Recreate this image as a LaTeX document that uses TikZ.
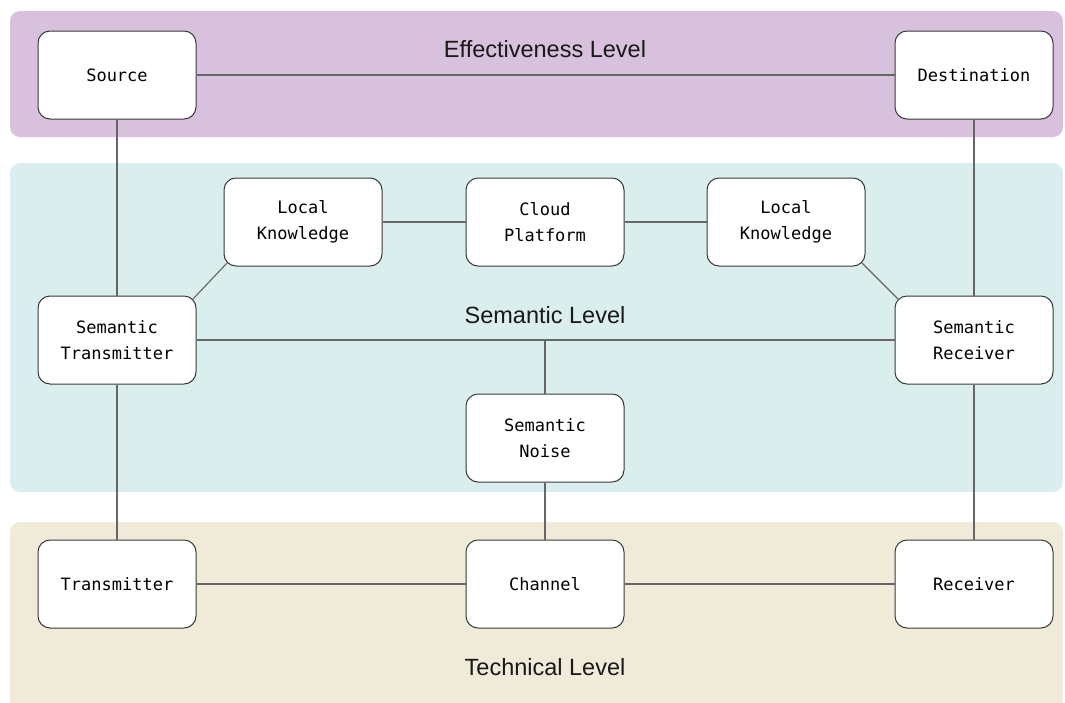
\documentclass[tikz,border=0pt]{standalone}
\usepackage{fontspec}
\setmainfont{Liberation Sans}
\newfontfamily\boxfont{DejaVu Sans Mono}
\begin{document}
\begin{tikzpicture}[x=1pt,y=-1pt,
  band/.style={rounded corners=10pt, draw=none},
  unit/.style={draw=black!78, fill=white, rounded corners=12pt, line width=1pt,
    minimum width=158pt, minimum height=88pt, align=center,
    font=\boxfont\fontsize{17}{26}\selectfont, inner sep=0pt},
  levellabel/.style={font=\fontsize{23.5}{28}\selectfont, anchor=base, text=black!90},
  link/.style={draw=black!60, line width=1.1pt}]
\definecolor{effband}{RGB}{216,193,220}
\definecolor{semband}{RGB}{218,238,237}
\definecolor{techband}{RGB}{240,234,216}
\useasboundingbox (0,0) rectangle (1065,702);

% level bands
\fill[band, effband] (10,11) rectangle (1063,137);
\fill[band, semband] (10,163) rectangle (1063,492);
\fill[band, techband] (10,522) rectangle (1063,716);

% level titles
\node[levellabel] (efftitle) at (545,57) {Effectiveness Level};
\node[levellabel] (semtitle) at (545,323) {Semantic Level};
\node[levellabel] (techtitle) at (545,675) {Technical Level};

% units
\node[unit] (src) at (117,75) {Source};
\node[unit] (dst) at (974,75) {Destination};
\node[unit] (lkl) at (303,222) {Local\\Knowledge};
\node[unit] (cloud) at (545,222) {Cloud\\Platform};
\node[unit] (lkr) at (786,222) {Local\\Knowledge};
\node[unit] (stx) at (117,340) {Semantic\\Transmitter};
\node[unit] (srx) at (974,340) {Semantic\\Receiver};
\node[unit] (noise) at (545,438) {Semantic\\Noise};
\node[unit] (tx) at (117,584) {Transmitter};
\node[unit] (chan) at (545,584) {Channel};
\node[unit] (rx) at (974,584) {Receiver};
\coordinate (tap) at (545,340);

% connectors
\draw[link] (src) -- (dst);
\draw[link] (src) -- (stx);
\draw[link] (dst) -- (srx);
\draw[link] (lkl) -- (cloud);
\draw[link] (cloud) -- (lkr);
\draw[link] ([shift={(3.5,-3.5)}]lkl.south west) -- ([shift={(-3.5,3.5)}]stx.north east);
\draw[link] ([shift={(-3.5,-3.5)}]lkr.south east) -- ([shift={(3.5,3.5)}]srx.north west);
\draw[link] (stx) -- (srx);
\draw[link] (tap) -- (noise);
\draw[link] (noise) -- (chan);
\draw[link] (stx) -- (tx);
\draw[link] (srx) -- (rx);
\draw[link] (tx) -- (chan);
\draw[link] (chan) -- (rx);
\end{tikzpicture}
\end{document}
